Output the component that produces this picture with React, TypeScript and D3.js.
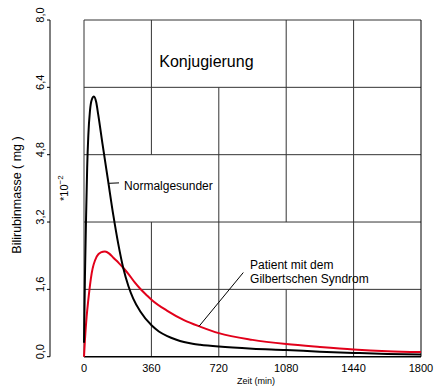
import React from 'react'
import * as d3 from 'd3'

const xTicks = [0, 360, 720, 1080, 1440, 1800]
const yTicks = [0, 1.6, 3.2, 4.8, 6.4, 8.0]
const yTickLabels = ['0,0', '1,6', '3,2', '4,8', '6,4', '8,0']

// Normalgesunder
const normalT = [0, 5, 11, 17, 23, 32, 41, 53, 65, 76, 99, 128, 157, 183, 210, 237, 263, 300, 362, 400, 445, 490, 534, 580, 620, 720, 900, 1080, 1260, 1440, 1620, 1800]
const normalV = [0.33, 1.9, 3.3, 4.5, 5.25, 5.85, 6.1, 6.18, 6.05, 5.75, 5.05, 4.2, 3.35, 2.68, 2.1, 1.68, 1.38, 1.08, 0.74, 0.6, 0.49, 0.41, 0.35, 0.31, 0.285, 0.24, 0.19, 0.16, 0.12, 0.09, 0.065, 0.05]

// Patient mit dem Gilbertschen Syndrom
const gilbertT = [0, 5, 14, 23, 41, 68, 90, 112, 135, 157, 185, 214, 240, 270, 299, 338, 362, 445, 534, 623, 720, 900, 1080, 1260, 1440, 1620, 1800]
const gilbertV = [0, 0.4, 0.95, 1.35, 1.98, 2.38, 2.48, 2.5, 2.45, 2.35, 2.23, 2.09, 1.95, 1.77, 1.62, 1.45, 1.35, 1.09, 0.87, 0.71, 0.56, 0.4, 0.3, 0.23, 0.17, 0.13, 0.11]

// grid cells kept open for the labels: [x tick, lower y, upper y]
const gridGaps = [[720, 6.4, 8.0], [360, 3.2, 4.8], [1080, 1.6, 3.2]]

const font = 'Liberation Sans, Arial, sans-serif'

export default function App() {
  const width = 440
  const height = 389
  const x = d3.scaleLinear().domain([0, 1800]).range([84, 421])
  const y = d3.scaleLinear().domain([0, 8]).range([356.7, 20])

  const line = d3.line<[number, number]>()
    .x(d => x(d[0]))
    .y(d => y(d[1]))
    .curve(d3.curveMonotoneX)

  const normal = normalT.map((t, i) => [t, normalV[i]] as [number, number])
  const gilbert = gilbertT.map((t, i) => [t, gilbertV[i]] as [number, number])

  const vSegs: [number, number, number][] = []
  for (const xv of xTicks.slice(1, -1)) {
    for (let i = 0; i < yTicks.length - 1; i++) {
      const open = gridGaps.some(g => g[0] === xv && g[1] === yTicks[i])
      if (!open) vSegs.push([xv, yTicks[i], yTicks[i + 1]])
    }
  }

  const gridColor = '#333'

  return (
    <svg width={width} height={height} viewBox={`0 0 ${width} ${height}`}
      style={{ position: 'absolute', left: 0, top: 0, background: '#fff' }}
      fontFamily={font}>
      {/* grid */}
      {yTicks.slice(1).map(v => (
        <line key={'h' + v} x1={x(0)} x2={x(1800)} y1={y(v)} y2={y(v)} stroke={gridColor} strokeWidth={1} />
      ))}
      {vSegs.map((s, i) => (
        <line key={'v' + i} x1={x(s[0])} x2={x(s[0])} y1={y(s[1])} y2={y(s[2])} stroke={gridColor} strokeWidth={1} />
      ))}
      <line x1={x(0)} x2={x(0)} y1={y(0)} y2={y(8)} stroke={gridColor} strokeWidth={1} />
      <line x1={x(1800)} x2={x(1800)} y1={y(0)} y2={y(8)} stroke="#000" strokeWidth={1} />
      <line x1={x(0)} x2={x(1800)} y1={y(0)} y2={y(0)} stroke="#000" strokeWidth={1.6} />

      {/* y axis */}
      <line x1={50} x2={50} y1={y(0)} y2={y(8)} stroke="#000" strokeWidth={1} />
      {yTicks.map((v, i) => (
        <g key={'yt' + v}>
          <line x1={47} x2={50} y1={y(v)} y2={y(v)} stroke="#000" strokeWidth={1} />
          <text transform={`translate(43.5,${y(v) - 5}) rotate(-90)`} textAnchor="middle" fontSize={11} fill="#000">
            {yTickLabels[i]}
          </text>
        </g>
      ))}
      <text transform={`translate(21,195) rotate(-90)`} textAnchor="middle" fontSize={12.5} fill="#000">
        Bilirubinmasse ( mg )
      </text>
      <text transform={`translate(68,201) rotate(-90)`} fontSize={11} fill="#000">
        *10<tspan fontSize={8} dy={-5}>−2</tspan>
      </text>

      {/* x axis labels */}
      {xTicks.map(v => (
        <text key={'xt' + v} x={x(v)} y={372} textAnchor="middle" fontSize={11} fill="#000">{v}</text>
      ))}
      <text x={256} y={383.5} textAnchor="middle" fontSize={9} fill="#000">Zeit  (min)</text>

      {/* curves */}
      <path d={line(gilbert) || ''} fill="none" stroke="#e2001a" strokeWidth={2} />
      <path d={line(normal) || ''} fill="none" stroke="#000" strokeWidth={2} />

      {/* labels */}
      <text x={x(402)} y={y(6.89)} fontSize={16} fill="#000">Konjugierung</text>
      <line x1={x(134)} y1={y(4.12)} x2={x(187)} y2={y(4.13)} stroke="#000" strokeWidth={1} />
      <text x={x(214)} y={y(3.96)} fontSize={12} fill="#000">Normalgesunder</text>
      <line x1={x(851)} y1={y(2.0)} x2={x(614)} y2={y(0.72)} stroke="#000" strokeWidth={1} />
      <text x={x(887)} y={y(2.08)} fontSize={12} fill="#000">Patient mit dem</text>
      <text x={x(887)} y={y(1.76)} fontSize={12} fill="#000">Gilbertschen Syndrom</text>
    </svg>
  )
}
